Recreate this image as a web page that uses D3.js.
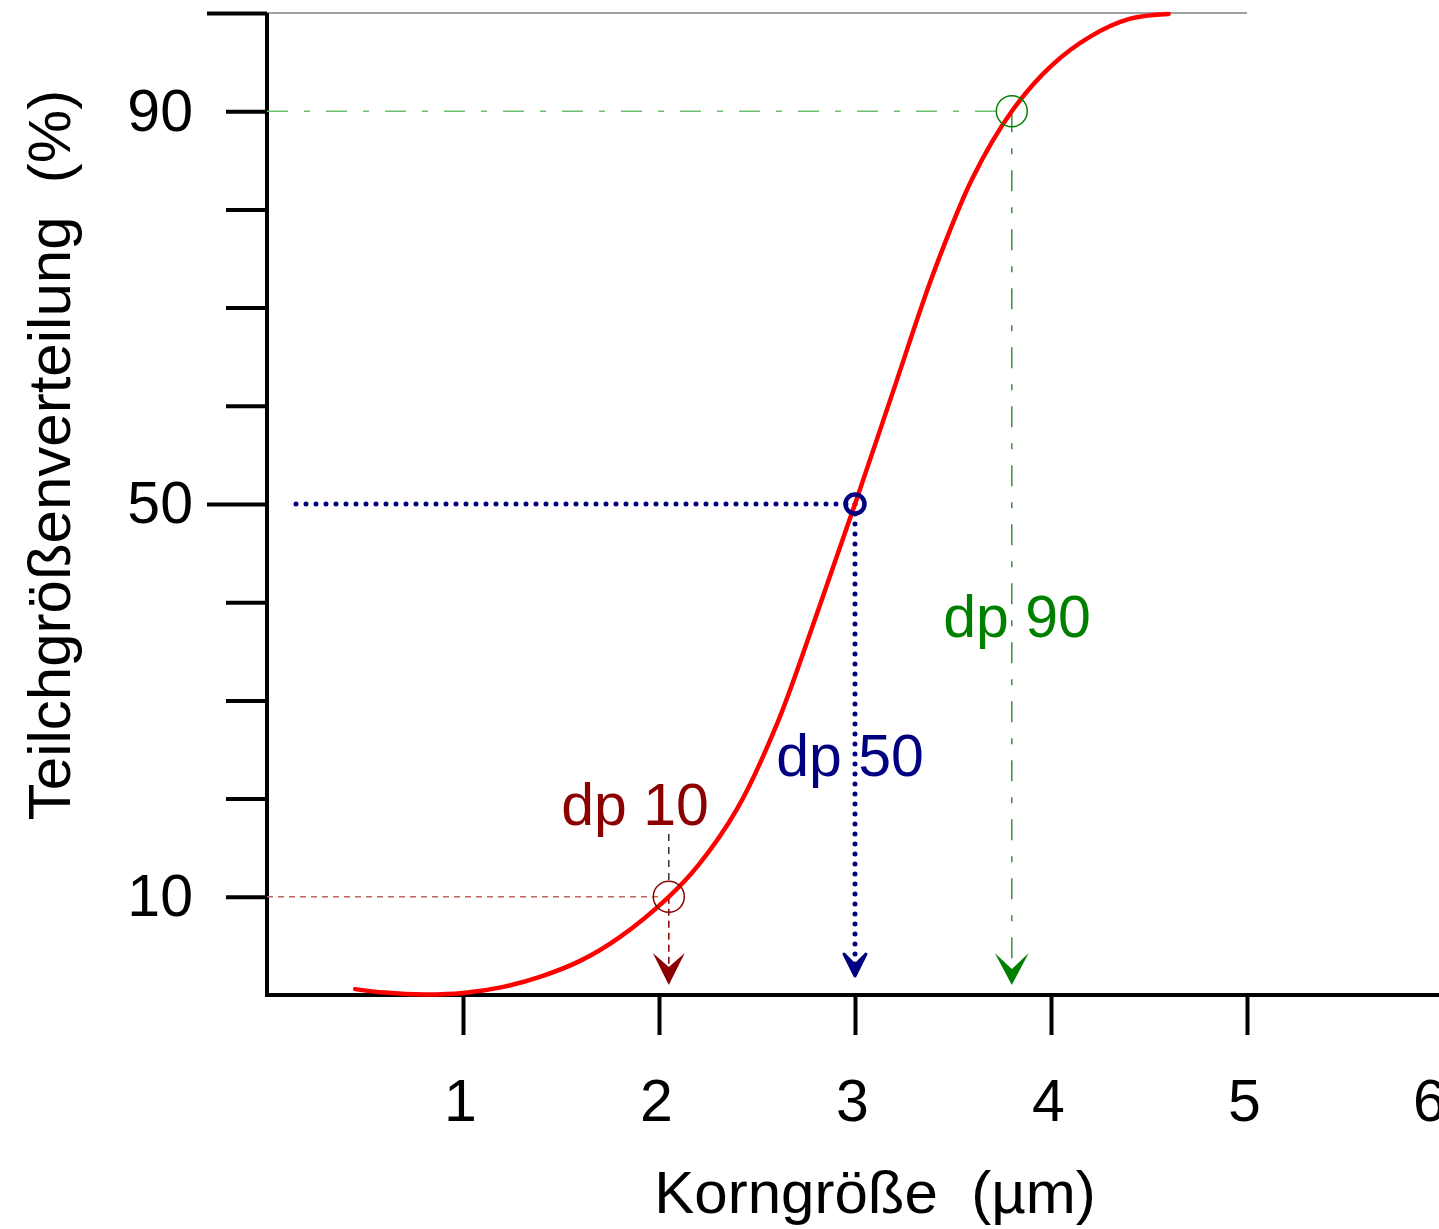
<!DOCTYPE html>
<html>
<head>
<meta charset="utf-8">
<script src="https://cdn.jsdelivr.net/npm/d3@7"></script>
<style>
  html, body { margin: 0; padding: 0; background: #fff; overflow: hidden; }
  text { font-family: "Liberation Sans", Arial, sans-serif; }
</style>
</head>
<body>
<div id="chart"></div>
<script>
// Korngröße (µm) vs. cumulative distribution (%)
const sizeUm = [0.45, 0.6, 0.8, 1.0, 1.2, 1.4, 1.6, 1.8, 2.05, 2.2, 2.4, 2.6, 2.8, 3.0, 3.2, 3.4, 3.6, 3.8, 4.0, 4.2, 4.4, 4.6];
const cumPct = [0.6, 0.25, 0.05, 0.2, 0.8, 1.9, 3.5, 5.9, 10, 13.2, 19, 27.5, 38.5, 50, 61.8, 73.5, 83.2, 90, 94.6, 97.6, 99.4, 99.9];

const markerNames = ["dp 10", "dp 50", "dp 90"];
const markerX = [2.05, 3.0, 3.8];
const markerY = [10, 50, 90];

const xTickVals = [1, 2, 3, 4, 5];
const xLabelVals = [1, 2, 3, 4, 5, 6];
const yMinorTicks = [10, 20, 30, 40, 60, 70, 80, 90];
const yLongTicks = [50, 100];
const yLabelVals = [10, 50, 90];

const W = 1439, H = 1229;
const FS = 59;
const svg = d3.select("#chart").append("svg")
  .attr("width", W).attr("height", H);

const x = d3.scaleLinear().domain([0, 6]).range([267, 267 + 6 * 196]);
const y = d3.scaleLinear().domain([0, 100]).range([995, 13]);

// top reference line
svg.append("line")
  .attr("x1", x(0)).attr("x2", x(5))
  .attr("y1", y(100)).attr("y2", y(100))
  .attr("stroke", "#808080").attr("stroke-width", 1.5);

// y axis ticks
const yAxisMinor = d3.axisLeft(y).tickValues(yMinorTicks).tickSize(41).tickFormat("");
const yAxisLong = d3.axisLeft(y).tickValues(yLongTicks).tickSize(60).tickFormat("");
const yAxisLabels = d3.axisLeft(y).tickValues(yLabelVals).tickSize(0).tickPadding(74).tickFormat(d3.format("d"));

[yAxisMinor, yAxisLong, yAxisLabels].forEach(ax => {
  const g = svg.append("g").attr("transform", "translate(" + x(0) + ",0)").call(ax);
  g.select(".domain").remove();
  g.selectAll("line").attr("stroke", "#000").attr("stroke-width", 4);
  g.selectAll("text").attr("font-size", FS).attr("fill", "#000")
    .style("font-family", "'Liberation Sans', Arial, sans-serif");
});

// x axis ticks
const xAxisTicks = d3.axisBottom(x).tickValues(xTickVals).tickSize(40).tickFormat("");
const xAxisLabels = d3.axisBottom(x).tickValues(xLabelVals).tickSize(0).tickPadding(84).tickFormat(d3.format("d"));
[xAxisTicks, xAxisLabels].forEach(ax => {
  const g = svg.append("g").attr("transform", "translate(0," + y(0) + ")").call(ax);
  g.select(".domain").remove();
  g.selectAll("line").attr("stroke", "#000").attr("stroke-width", 4);
  g.selectAll("text").attr("font-size", FS).attr("fill", "#000")
    .attr("dx", d => d === 6 ? -14 : -3)
    .style("font-family", "'Liberation Sans', Arial, sans-serif");
});

// axis lines
svg.append("path")
  .attr("d", "M" + x(0) + "," + y(100) + "V" + y(0) + "H" + W)
  .attr("fill", "none").attr("stroke", "#000").attr("stroke-width", 4)
  .attr("stroke-linejoin", "miter");

// axis titles
svg.append("text")
  .attr("x", 875).attr("y", 1213)
  .attr("text-anchor", "middle").attr("font-size", 60)
  .attr("xml:space", "preserve")
  .text("Korngröße  (µm)");

svg.append("text")
  .attr("transform", "translate(70,455) rotate(-90)")
  .attr("text-anchor", "middle").attr("font-size", 60)
  .attr("xml:space", "preserve")
  .text("Teilchgrößenverteilung  (%)");

// marker guide lines
const colDark = ["#8b0000", "#000080", "#008000"];

// dp 10
svg.append("line")
  .attr("x1", x(0)).attr("x2", x(markerX[0]) - 8)
  .attr("y1", y(markerY[0])).attr("y2", y(markerY[0]))
  .attr("stroke", "#c06464").attr("stroke-width", 1.5)
  .attr("stroke-dasharray", "6,5");
svg.append("line")
  .attr("x1", x(markerX[0])).attr("x2", x(markerX[0]))
  .attr("y1", y(markerY[0])).attr("y2", y(0) - 18)
  .attr("stroke", colDark[0]).attr("stroke-width", 1.5)
  .attr("stroke-dasharray", "7,5");
svg.append("line")
  .attr("x1", x(markerX[0])).attr("x2", x(markerX[0]))
  .attr("y1", 834).attr("y2", y(markerY[0]) - 16)
  .attr("stroke", "#333").attr("stroke-width", 1.5)
  .attr("stroke-dasharray", "7,6");

// dp 50
svg.append("line")
  .attr("x1", 296).attr("x2", x(markerX[1]))
  .attr("y1", y(markerY[1])).attr("y2", y(markerY[1]))
  .attr("stroke", colDark[1]).attr("stroke-width", 5)
  .attr("stroke-linecap", "round").attr("stroke-dasharray", "0,10");
svg.append("line")
  .attr("x1", x(markerX[1])).attr("x2", x(markerX[1]))
  .attr("y1", y(markerY[1])).attr("y2", y(0) - 30)
  .attr("stroke", colDark[1]).attr("stroke-width", 5)
  .attr("stroke-linecap", "round").attr("stroke-dasharray", "0,10");

// dp 90
svg.append("line")
  .attr("x1", x(0)).attr("x2", x(markerX[2]) - 16)
  .attr("y1", y(markerY[2])).attr("y2", y(markerY[2]))
  .attr("stroke", "#6cbf6c").attr("stroke-width", 1.5)
  .attr("stroke-dasharray", "21,16,6,16");
svg.append("line")
  .attr("x1", x(markerX[2])).attr("x2", x(markerX[2]))
  .attr("y1", y(markerY[2])).attr("y2", y(0) - 18)
  .attr("stroke", "#3a8f3a").attr("stroke-width", 1.5)
  .attr("stroke-dasharray", "21,16,6,16");

// distribution curve
const line = d3.line()
  .x((d, i) => x(sizeUm[i]))
  .y(d => y(d))
  .curve(d3.curveCatmullRom);
svg.append("path")
  .datum(cumPct)
  .attr("d", line)
  .attr("fill", "none").attr("stroke", "#ff0000").attr("stroke-width", 4.5)
  .attr("stroke-linecap", "round");

// circles
svg.append("circle")
  .attr("cx", x(markerX[0])).attr("cy", y(markerY[0])).attr("r", 15.5)
  .attr("fill", "none").attr("stroke", colDark[0]).attr("stroke-width", 1.5);
svg.append("circle")
  .attr("cx", x(markerX[1])).attr("cy", y(markerY[1])).attr("r", 9.5)
  .attr("fill", "none").attr("stroke", colDark[1]).attr("stroke-width", 4.5);
svg.append("circle")
  .attr("cx", x(markerX[2])).attr("cy", y(markerY[2])).attr("r", 15.5)
  .attr("fill", "none").attr("stroke", colDark[2]).attr("stroke-width", 1.5);

// arrowheads
function arrowHead(cx, tipY, halfW, h, notch) {
  const p = d3.path();
  p.moveTo(cx, tipY);
  p.lineTo(cx - halfW, tipY - h);
  p.lineTo(cx, tipY - notch);
  p.lineTo(cx + halfW, tipY - h);
  p.closePath();
  return p.toString();
}
svg.append("path")
  .attr("d", arrowHead(x(markerX[0]), y(0) - 10, 16, 32, 18))
  .attr("fill", colDark[0]);
svg.append("path")
  .attr("d", arrowHead(x(markerX[1]), y(0) - 19, 11, 22, 11))
  .attr("fill", colDark[1]).attr("stroke", colDark[1]).attr("stroke-width", 3)
  .attr("stroke-linejoin", "round");
svg.append("path")
  .attr("d", arrowHead(x(markerX[2]), y(0) - 10, 17, 32, 16))
  .attr("fill", colDark[2]);

// labels
const labelPos = [[635, 825], [850, 776], [1017, 637]];
markerNames.forEach((name, i) => {
  svg.append("text")
    .attr("x", labelPos[i][0]).attr("y", labelPos[i][1])
    .attr("text-anchor", "middle").attr("font-size", FS)
    .attr("fill", colDark[i])
    .text(name);
});
</script>
</body>
</html>
